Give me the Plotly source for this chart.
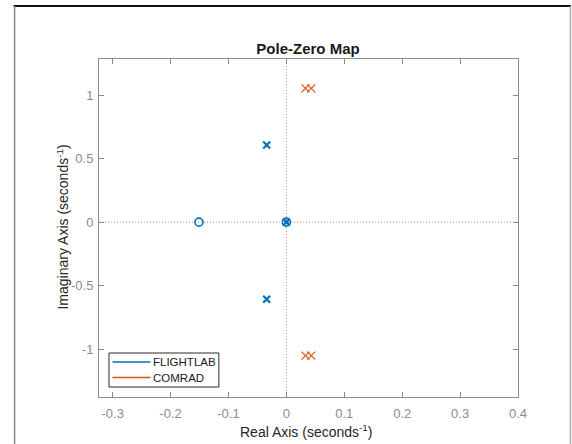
import plotly.graph_objects as go

# Data (seconds^-1)
flightlab_pole_re = [-0.034, -0.034, 0.0]
flightlab_pole_im = [0.607, -0.607, 0.0]
flightlab_zero_re = [-0.151, 0.0]
flightlab_zero_im = [0.0, 0.0]
comrad_pole_re = [0.033, 0.043, 0.033, 0.043]
comrad_pole_im = [1.053, 1.053, -1.050, -1.050]

series_names = ["FLIGHTLAB", "COMRAD"]
blue = "#0072BD"
orange = "#D95319"

x_ticks = [-0.3, -0.2, -0.1, 0, 0.1, 0.2, 0.3, 0.4]
y_ticks = [-1, -0.5, 0, 0.5, 1]
x_range = [-0.3236, 0.4]
y_range = [-1.376, 1.284]

FONT = "Liberation Sans, Arial, sans-serif"
GRAY = "#8c8c8c"

fig = go.Figure()

fig.add_trace(go.Scatter(x=flightlab_zero_re, y=flightlab_zero_im, mode="markers",
                         marker=dict(symbol="circle-open", size=8, color=blue,
                                     line=dict(width=1.6, color=blue)),
                         showlegend=False, hoverinfo="skip"))
fig.add_trace(go.Scatter(x=flightlab_pole_re, y=flightlab_pole_im, mode="markers",
                         marker=dict(symbol="x-thin", size=7, color=blue,
                                     line=dict(width=2.2, color=blue)),
                         showlegend=False, hoverinfo="skip"))
fig.add_trace(go.Scatter(x=comrad_pole_re, y=comrad_pole_im, mode="markers",
                         marker=dict(symbol="x-thin", size=8, color=orange,
                                     line=dict(width=1.2, color=orange)),
                         showlegend=False, hoverinfo="skip"))

ml, mr, mt, mb = 98.5, 54, 59, 47
W, H = 572, 444
pw, ph = W - ml - mr, H - mt - mb

def px_x(p):
    return (p - ml) / pw

def px_y(p):
    return (H - mb - p) / ph

shapes = [
    dict(type="line", xref="x", yref="paper", x0=0, x1=0, y0=0, y1=1,
         line=dict(color="#9a9a9a", width=1, dash="1px,2px"), layer="below"),
    dict(type="line", xref="paper", yref="y", x0=0, x1=1, y0=0, y1=0,
         line=dict(color="#9a9a9a", width=1, dash="1px,2px"), layer="below"),
    # outer figure frame
    dict(type="line", xref="paper", yref="paper", x0=px_x(13), x1=px_x(571),
         y0=px_y(6), y1=px_y(6), line=dict(color="#111111", width=2)),
    dict(type="line", xref="paper", yref="paper", x0=px_x(14), x1=px_x(14),
         y0=px_y(6), y1=px_y(446), line=dict(color="#888888", width=1.5)),
    dict(type="line", xref="paper", yref="paper", x0=px_x(570.5), x1=px_x(570.5),
         y0=px_y(6), y1=px_y(446), line=dict(color="#aaaaaa", width=1.5)),
    # legend box
    dict(type="rect", xref="paper", yref="paper", x0=px_x(108.5), x1=px_x(218.5),
         y0=px_y(387), y1=px_y(353), line=dict(color="#2b2b2b", width=1),
         fillcolor="white", layer="above"),
]

annotations = [
    dict(text="Real Axis (seconds<sup>-1</sup>)", xref="paper", yref="paper",
         x=px_x(306), y=px_y(431), xanchor="center", yanchor="middle",
         showarrow=False, font=dict(size=14, color="#262626", family=FONT)),
    dict(text="Imaginary Axis (seconds<sup>-1</sup>)", xref="paper", yref="paper",
         x=px_x(62), y=px_y(227), xanchor="center", yanchor="middle",
         textangle=-90, showarrow=False,
         font=dict(size=14, color="#262626", family=FONT)),
]

legend_rows = [362, 377.5]
for name, col, ry in zip(series_names, [blue, orange], legend_rows):
    shapes.append(dict(type="line", xref="paper", yref="paper",
                       x0=px_x(112), x1=px_x(150), y0=px_y(ry), y1=px_y(ry),
                       line=dict(color=col, width=1.5), layer="above"))
    annotations.append(dict(text=name, xref="paper", yref="paper",
                            x=px_x(151), y=px_y(ry), xanchor="left",
                            yanchor="middle", showarrow=False,
                            font=dict(size=11.5, color="#1a1a1a", family=FONT)))

fig.update_layout(
    width=W, height=H,
    margin=dict(l=ml, r=mr, t=mt, b=mb, pad=0),
    paper_bgcolor="white", plot_bgcolor="white",
    font=dict(family=FONT, color="#262626"),
    title=dict(text="<b>Pole-Zero Map</b>", x=308 / W, xanchor="center",
               y=1 - 48.5 / H, yanchor="middle",
               font=dict(size=15, color="#1a1a1a", family=FONT)),
    shapes=shapes,
    annotations=annotations,
    showlegend=False,
)

fig.update_xaxes(range=x_range, tickvals=x_ticks,
                 ticktext=[f"{v:g}" for v in x_ticks],
                 showgrid=False, zeroline=False, showline=True, linecolor=GRAY,
                 linewidth=1, mirror="ticks", ticks="inside", ticklen=5,
                 tickcolor=GRAY, ticklabelstandoff=4,
                 tickfont=dict(size=13, color=GRAY, family=FONT))
fig.update_yaxes(range=y_range, tickvals=y_ticks,
                 ticktext=[f"{v:g}" for v in y_ticks],
                 showgrid=False, zeroline=False, showline=True, linecolor=GRAY,
                 linewidth=1, mirror="ticks", ticks="inside", ticklen=5,
                 tickcolor=GRAY, ticklabelstandoff=2,
                 tickfont=dict(size=13, color=GRAY, family=FONT))

fig.write_html("out.html")
